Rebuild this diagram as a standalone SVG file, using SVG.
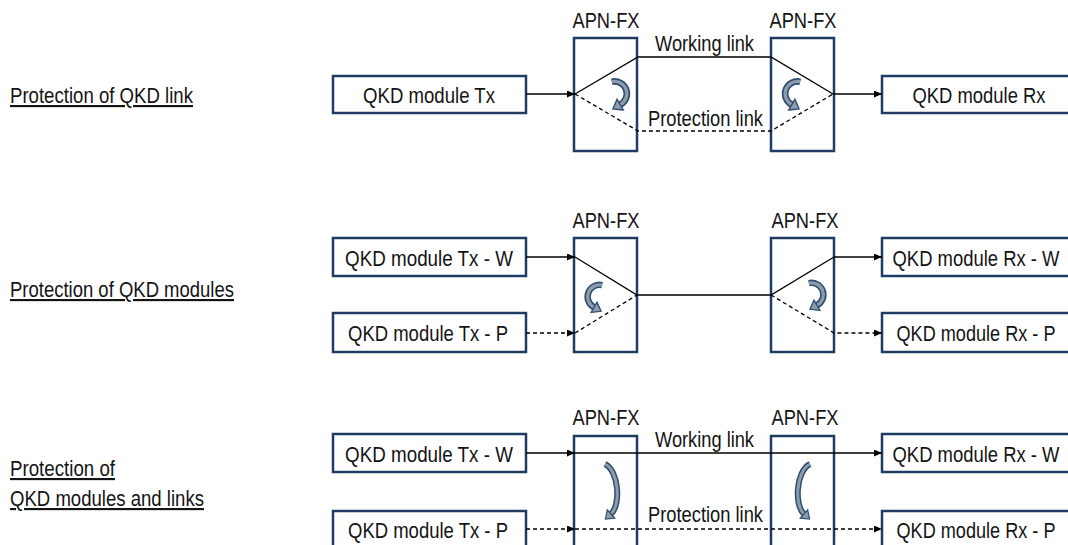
<svg xmlns="http://www.w3.org/2000/svg" xmlns:xlink="http://www.w3.org/1999/xlink" width="1068" height="545" viewBox="0 0 1068 545">
<style>
.box{fill:#fff;stroke:#1f3d63;stroke-width:2.5}
.t{font-family:"Liberation Sans",Arial,sans-serif;font-size:21.5px;fill:#141414}
.m{text-anchor:middle}
.ul{text-decoration:underline}
.ln{stroke:#000;stroke-width:1.3;fill:none}
.d{stroke-dasharray:4 3}
.ao{stroke:#2e4d70;stroke-width:6;fill:none}
.ai{stroke:#8d9cab;stroke-width:3;fill:none}
.ah{fill:#8d9cab;stroke:#2e4d70;stroke-width:1.2}
</style>
<defs>
<marker id="arr" markerUnits="userSpaceOnUse" markerWidth="8" markerHeight="7" refX="8" refY="3.5" orient="auto">
<path d="M0,0 L8,3.5 L0,7 z" fill="#000"/>
</marker>
<g id="hook">
<path class="ao" d="M -2 -11 A 11 11 0 0 1 5.5 9.5"/>
<path class="ai" d="M -2 -11 A 11 11 0 0 1 5.5 9.5"/>
<polygon class="ah" points="8.25,14.26 -1,13.25 2.75,4.74"/>
</g>
<g id="tall">
<path class="ao" d="M 2 -27 C 16 -20 18 14 8 23"/>
<path class="ai" d="M 2 -27 C 16 -20 18 14 8 23"/>
<polygon class="ah" points="11.7,27.1 2.4,28 4.3,18.9"/>
</g>
</defs>

<g id="labels">
<text class="t ul" x="10" y="103" textLength="183" lengthAdjust="spacingAndGlyphs">Protection of QKD link</text>
<text class="t ul" x="10" y="297" textLength="224" lengthAdjust="spacingAndGlyphs">Protection of QKD modules</text>
<text class="t ul" x="10" y="476" textLength="105" lengthAdjust="spacingAndGlyphs">Protection of</text>
<text class="t ul" x="10" y="506" textLength="194" lengthAdjust="spacingAndGlyphs">QKD modules and links</text>
</g>

<!-- Row 1 -->
<g id="r1-tx"><rect class="box" x="333" y="76" width="193" height="37"/><text class="t m" x="429" y="103" textLength="132" lengthAdjust="spacingAndGlyphs">QKD module Tx</text></g>
<g id="r1-apn1"><rect class="box" x="574" y="38" width="63" height="113"/><text class="t m" x="606" y="28" textLength="67" lengthAdjust="spacingAndGlyphs">APN-FX</text></g>
<g id="r1-apn2"><rect class="box" x="771" y="38" width="63" height="113"/><text class="t m" x="803" y="28" textLength="67" lengthAdjust="spacingAndGlyphs">APN-FX</text></g>
<g id="r1-rx"><rect class="box" x="882" y="76" width="188" height="37"/><text class="t m" x="979" y="103" textLength="133" lengthAdjust="spacingAndGlyphs">QKD module Rx</text></g>

<!-- Row 2 -->
<g id="r2-txw"><rect class="box" x="333" y="238" width="193" height="38"/><text class="t m" x="429" y="266" textLength="168" lengthAdjust="spacingAndGlyphs">QKD module Tx - W</text></g>
<g id="r2-txp"><rect class="box" x="333" y="313" width="193" height="39"/><text class="t m" x="428" y="341" textLength="160" lengthAdjust="spacingAndGlyphs">QKD module Tx - P</text></g>
<g id="r2-apn1"><rect class="box" x="574" y="238" width="63" height="114"/><text class="t m" x="606" y="228" textLength="67" lengthAdjust="spacingAndGlyphs">APN-FX</text></g>
<g id="r2-apn2"><rect class="box" x="771" y="238" width="63" height="114"/><text class="t m" x="805" y="228" textLength="67" lengthAdjust="spacingAndGlyphs">APN-FX</text></g>
<g id="r2-rxw"><rect class="box" x="882" y="238" width="188" height="38"/><text class="t m" x="976" y="266" textLength="167" lengthAdjust="spacingAndGlyphs">QKD module Rx - W</text></g>
<g id="r2-rxp"><rect class="box" x="882" y="313" width="188" height="39"/><text class="t m" x="976" y="341" textLength="159" lengthAdjust="spacingAndGlyphs">QKD module Rx - P</text></g>

<!-- Row 3 -->
<g id="r3-txw"><rect class="box" x="333" y="434" width="193" height="38"/><text class="t m" x="429" y="462" textLength="168" lengthAdjust="spacingAndGlyphs">QKD module Tx - W</text></g>
<g id="r3-txp"><rect class="box" x="333" y="511" width="193" height="40"/><text class="t m" x="428" y="538" textLength="160" lengthAdjust="spacingAndGlyphs">QKD module Tx - P</text></g>
<g id="r3-apn1"><rect class="box" x="574" y="436" width="63" height="115"/><text class="t m" x="606" y="425" textLength="67" lengthAdjust="spacingAndGlyphs">APN-FX</text></g>
<g id="r3-apn2"><rect class="box" x="771" y="436" width="63" height="115"/><text class="t m" x="805" y="425" textLength="67" lengthAdjust="spacingAndGlyphs">APN-FX</text></g>
<g id="r3-rxw"><rect class="box" x="882" y="434" width="188" height="38"/><text class="t m" x="976" y="462" textLength="167" lengthAdjust="spacingAndGlyphs">QKD module Rx - W</text></g>
<g id="r3-rxp"><rect class="box" x="882" y="511" width="188" height="40"/><text class="t m" x="976" y="538" textLength="159" lengthAdjust="spacingAndGlyphs">QKD module Rx - P</text></g>

<g id="connectors">
<line class="ln" x1="526" y1="94" x2="575" y2="94" marker-end="url(#arr)"/>
<polyline class="ln" points="575,94 638,57 771,57 833,94"/>
<polyline class="ln d" points="575,94 638,131 771,131 833,94"/>
<line class="ln" x1="833" y1="94" x2="882" y2="94" marker-end="url(#arr)"/>
<line class="ln" x1="526" y1="257" x2="575" y2="257" marker-end="url(#arr)"/>
<line class="ln d" x1="526" y1="333" x2="575" y2="333" marker-end="url(#arr)"/>
<polyline class="ln" points="575,257 637,295 771,295 834,257"/>
<line class="ln" x1="834" y1="257" x2="882" y2="257" marker-end="url(#arr)"/>
<line class="ln d" x1="575" y1="333" x2="637" y2="295"/>
<polyline class="ln d" points="771,295 834,333 882,333" marker-end="url(#arr)"/>
<line class="ln" x1="526" y1="453" x2="575" y2="453" marker-end="url(#arr)"/>
<line class="ln" x1="575" y1="453" x2="882" y2="453" marker-end="url(#arr)"/>
<line class="ln d" x1="526" y1="529" x2="575" y2="529" marker-end="url(#arr)"/>
<line class="ln d" x1="575" y1="529" x2="882" y2="529" marker-end="url(#arr)"/>
</g>

<g id="link-labels">
<text class="t m" x="704.5" y="51" textLength="99" lengthAdjust="spacingAndGlyphs">Working link</text>
<text class="t m" x="705.5" y="126" textLength="115" lengthAdjust="spacingAndGlyphs">Protection link</text>
<text class="t m" x="704.5" y="447" textLength="99" lengthAdjust="spacingAndGlyphs">Working link</text>
<text class="t m" x="705.5" y="522" textLength="115" lengthAdjust="spacingAndGlyphs">Protection link</text>
</g>

<g id="switch-arrows">
<use xlink:href="#hook" transform="translate(614,94) scale(1.12)"/>
<use xlink:href="#hook" transform="translate(798,94) scale(-1.12,1.12)"/>
<use xlink:href="#hook" transform="translate(600,297) scale(-1.08,1.08)"/>
<use xlink:href="#hook" transform="translate(811,295) scale(1.08)"/>
<use xlink:href="#tall" transform="translate(603,491)"/>
<use xlink:href="#tall" transform="translate(812,491) scale(-1,1)"/>
</g>
</svg>
